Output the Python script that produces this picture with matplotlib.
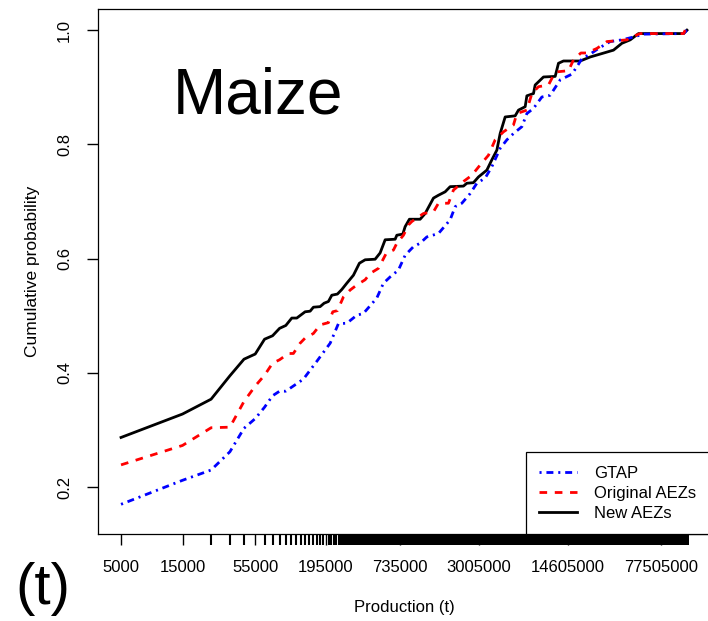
import numpy as np
import matplotlib
matplotlib.use("Agg")
import matplotlib.pyplot as plt
from matplotlib.ticker import FixedLocator, NullFormatter

plt.rcParams['font.family'] = ['Liberation Sans', 'DejaVu Sans']
plt.rcParams['lines.scale_dashes'] = False

# GTAP
prod_gtap = [5000, 15000, 25000, 35000, 45000, 55000, 65000, 75000, 85000, 95000,
             130000, 165000, 210000, 243000, 283000, 338000, 380000, 483000, 544000, 613000,
             711000, 802000, 930000, 1048000, 1181000, 1454000, 1792000, 1960000, 2209000, 2563000,
             2888000, 3350000, 3776000, 4380000, 4938000, 5556000, 6458000, 7060000, 7943000, 9233000,
             10710000, 12070000, 12810000, 15790000, 17260000, 18880000, 21890000, 25400000, 31300000, 38590000,
             47490000, 56770000, 116100000, 123400000]
cum_gtap = [0.170, 0.212, 0.230, 0.262, 0.303, 0.320, 0.340, 0.360, 0.368, 0.368,
            0.389, 0.420, 0.452, 0.486, 0.487, 0.501, 0.504, 0.531, 0.557, 0.568,
            0.580, 0.606, 0.621, 0.627, 0.638, 0.644, 0.668, 0.691, 0.697, 0.714,
            0.732, 0.741, 0.761, 0.793, 0.808, 0.819, 0.831, 0.854, 0.863, 0.883,
            0.886, 0.904, 0.913, 0.923, 0.936, 0.950, 0.958, 0.968, 0.980, 0.983,
            0.988, 0.993, 0.994, 1.000]

# Original AEZs
prod_orig = [5000, 15000, 25000, 35000, 45000, 55000, 65000, 75000, 85000, 99500,
             108800, 122700, 134200, 155600, 175400, 203500, 220100, 238900, 266100, 299900,
             338100, 392200, 428800, 497400, 570900, 650400, 691000, 777800, 850500, 903600,
             1112000, 1330000, 1454000, 1739000, 1901000, 2273000, 2642000, 3064000, 3554000, 4006000,
             4647000, 5556000, 5904000, 7060000, 7721000, 8688000, 10390000, 11300000, 12070000, 14860000,
             16240000, 18540000, 20640000, 24680000, 29510000, 42210000, 44770000, 53530000, 116100000, 119600000]
cum_orig = [0.239, 0.273, 0.304, 0.305, 0.350, 0.377, 0.396, 0.417, 0.423, 0.434,
            0.434, 0.452, 0.461, 0.469, 0.484, 0.488, 0.507, 0.509, 0.533, 0.545,
            0.554, 0.563, 0.574, 0.583, 0.609, 0.615, 0.627, 0.641, 0.659, 0.665,
            0.679, 0.682, 0.697, 0.697, 0.720, 0.735, 0.746, 0.764, 0.781, 0.808,
            0.822, 0.834, 0.854, 0.860, 0.889, 0.901, 0.904, 0.920, 0.927, 0.929,
            0.948, 0.960, 0.960, 0.968, 0.980, 0.983, 0.987, 0.994, 0.994, 1.000]

# New AEZs
prod_new = [5000, 15000, 25000, 35000, 45000, 55000, 65000, 75000, 85000, 95000,
            105700, 115600, 134200, 146700, 155600, 175400, 188400, 203500, 216200, 238900,
            258500, 282600, 318200, 354000, 392200, 468800, 512600, 560800, 670500, 691000,
            769000, 801600, 865300, 1048000, 1146000, 1330000, 1454000, 1639000, 1792000, 2273000,
            2415000, 2718000, 2972000, 3454000, 3776000, 4130000, 4380000, 4790000, 5728000, 6076000,
            6849000, 7060000, 7943000, 8190000, 9500000, 11710000, 12420000, 13580000, 18310000, 21890000,
            26990000, 33200000, 38590000, 44770000, 51930000, 116100000, 123400000]
cum_new = [0.287, 0.328, 0.354, 0.395, 0.424, 0.433, 0.459, 0.465, 0.478, 0.483,
           0.496, 0.496, 0.507, 0.508, 0.515, 0.516, 0.522, 0.525, 0.536, 0.538,
           0.546, 0.557, 0.571, 0.592, 0.598, 0.599, 0.610, 0.633, 0.634, 0.641,
           0.643, 0.656, 0.669, 0.669, 0.679, 0.706, 0.711, 0.717, 0.726, 0.727,
           0.732, 0.733, 0.743, 0.755, 0.773, 0.790, 0.819, 0.848, 0.850, 0.860,
           0.866, 0.885, 0.889, 0.904, 0.918, 0.919, 0.942, 0.946, 0.946, 0.953,
           0.959, 0.965, 0.977, 0.983, 0.994, 0.994, 1.000]

xtick_labels = [5000, 15000, 55000, 195000, 735000, 3005000, 14605000, 77505000]
ytick_vals = [0.2, 0.4, 0.6, 0.8, 1.0]

fig = plt.figure(figsize=(7.08, 6.21), dpi=100)
ax = fig.add_axes([98.4 / 708, 1 - 534 / 621, (709.6 - 98.4) / 708, (534 - 9) / 621])

l_new, = ax.plot(prod_new, cum_new, color='black', lw=2.0, label='New AEZs', zorder=2)
l_gtap, = ax.plot(prod_gtap, cum_gtap, color='blue', lw=2.0, dashes=(1.5, 3.5, 5, 3.5),
                  label='GTAP', zorder=3)
l_orig, = ax.plot(prod_orig, cum_orig, color='red', lw=2.0, dashes=(5.5, 5.5),
                  label='Original AEZs', zorder=4)

ax.set_xscale('log')
lo = np.log10(min(prod_gtap))
hi = np.log10(max(prod_gtap))
pad = 0.04 * (hi - lo)
ax.set_xlim(10 ** (lo - pad), 10 ** (hi + pad))
ax.set_ylim(0.118, 1.037)

# ticks every 10000 t, labels only where R had room
ax.xaxis.set_major_locator(FixedLocator(xtick_labels))
ax.set_xticklabels([str(v) for v in xtick_labels])
ax.xaxis.set_minor_locator(FixedLocator(np.arange(5000, max(prod_gtap) + 1, 10000)))
ax.xaxis.set_minor_formatter(NullFormatter())

ax.set_yticks(ytick_vals)
ax.set_yticklabels(['0.2', '0.4', '0.6', '0.8', '1.0'], rotation=90, va='center')

ax.tick_params(axis='both', which='both', direction='out', length=8, width=1.0,
               labelsize=12, colors='black')
ax.tick_params(axis='x', which='minor', width=1.5)
ax.tick_params(axis='x', which='both', pad=11)
ax.tick_params(axis='y', pad=11)
for s in ax.spines.values():
    s.set_linewidth(0.9)

ax.set_xlabel('Production (t)', fontsize=12, labelpad=18)
ax.set_ylabel('Cumulative probability', fontsize=12.5, labelpad=12)

leg = ax.legend(handles=[l_gtap, l_orig, l_new], loc='lower right', borderaxespad=0,
                fancybox=False, edgecolor='black', framealpha=1, fontsize=12,
                handlelength=2.3, handletextpad=1.0, borderpad=0.8, labelspacing=0.3)
leg.get_frame().set_linewidth(0.9)

fig.text(258 / 708, 1 - 97 / 621, 'Maize', fontsize=46, ha='center', va='center')
fig.text(43 / 708, 1 - 589 / 621, '(t)', fontsize=42, ha='center', va='center')

fig.savefig('out.png', dpi=100)
